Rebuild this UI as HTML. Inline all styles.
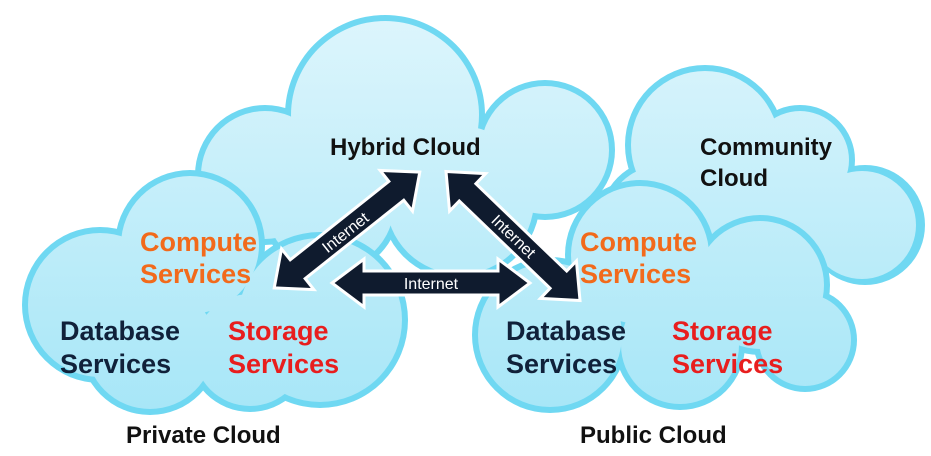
<!DOCTYPE html>
<html><head><style>
body{margin:0;background:#fff;}
svg{display:block;}
text{font-family:"Liberation Sans",sans-serif;font-weight:bold;}
</style></head><body>
<svg width="931" height="456" viewBox="0 0 931 456" xmlns="http://www.w3.org/2000/svg">
<defs>
<linearGradient id="g" gradientUnits="userSpaceOnUse" x1="0" y1="20" x2="0" y2="420">
<stop offset="0" stop-color="#dcf5fc"/><stop offset="1" stop-color="#a6e6f7"/>
</linearGradient>
</defs>
<g id="community">
<g fill="#6fd8f2">
<circle cx="705" cy="145" r="80"/><circle cx="800" cy="160" r="55"/><circle cx="865" cy="225" r="60"/><circle cx="760" cy="240" r="70"/><circle cx="660" cy="220" r="60"/>
</g>
<g fill="url(#g)">
<circle cx="705" cy="145" r="74"/><circle cx="800" cy="160" r="49"/><circle cx="862" cy="225" r="54"/><circle cx="760" cy="240" r="64"/><circle cx="660" cy="220" r="54"/>
</g>
</g>
<g id="hybrid">
<g fill="#6fd8f2">
<circle cx="385" cy="115" r="100"/><circle cx="265" cy="175" r="70"/><circle cx="545" cy="150" r="70"/><circle cx="460" cy="200" r="80"/><circle cx="330" cy="205" r="70"/>
</g>
<g fill="url(#g)">
<circle cx="385" cy="115" r="94"/><circle cx="265" cy="175" r="64"/><circle cx="545" cy="150" r="64"/><circle cx="460" cy="200" r="74"/><circle cx="330" cy="205" r="64"/>
</g>
</g>
<g id="private">
<g fill="#6fd8f2">
<circle cx="190" cy="245" r="75"/><circle cx="100" cy="305" r="78"/><circle cx="320" cy="320" r="88"/><circle cx="150" cy="345" r="70"/><circle cx="250" cy="350" r="62"/>
</g>
<g fill="url(#g)">
<circle cx="190" cy="245" r="69"/><circle cx="100" cy="305" r="72"/><circle cx="320" cy="320" r="82"/><circle cx="150" cy="345" r="64"/><circle cx="250" cy="350" r="56"/>
</g>
</g>
<g id="public">
<g fill="#6fd8f2">
<circle cx="640" cy="255" r="75"/><circle cx="760" cy="285" r="70"/><circle cx="805" cy="340" r="52"/><circle cx="550" cy="335" r="78"/><circle cx="680" cy="345" r="65"/>
</g>
<g fill="url(#g)">
<circle cx="640" cy="255" r="69"/><circle cx="760" cy="285" r="64"/><circle cx="805" cy="340" r="46"/><circle cx="550" cy="335" r="72"/><circle cx="680" cy="345" r="59"/>
</g>
</g>
<g fill="#0f1b2e" stroke="#fff" stroke-width="3" stroke-linejoin="miter">
<g transform="translate(347,230) rotate(-38.5)">
<polygon points="-93,0 -63,-26 -63,-12 63,-12 63,-26 93,0 63,26 63,12 -63,12 -63,26"/>
</g>
<g transform="translate(513,236) rotate(43.9)">
<polygon points="-93,0 -63,-26 -63,-12 63,-12 63,-26 93,0 63,26 63,12 -63,12 -63,26"/>
</g>
<polygon points="332,283 364,259 364,271 498,271 498,259 530,283 498,307 498,295 364,295 364,307"/>
</g>
<g fill="#fff" font-size="16">
<text x="431" y="289" text-anchor="middle" style="font-weight:normal">Internet</text>
<text transform="translate(345,232) rotate(-38.5)" text-anchor="middle" y="6" style="font-weight:normal">Internet</text>
<text transform="translate(514,236) rotate(43.9)" text-anchor="middle" y="6" style="font-weight:normal">Internet</text>
</g>
<g font-size="24">
<text x="330" y="155" fill="#111">Hybrid Cloud</text>
<text x="700" y="155" fill="#111">Community</text>
<text x="700" y="186" fill="#111">Cloud</text>
<text x="140" y="251" fill="#f26a1b" font-size="27">Compute</text>
<text x="140" y="283" fill="#f26a1b" font-size="27">Services</text>
<text x="60" y="340" fill="#10213a" font-size="27">Database</text>
<text x="60" y="373" fill="#10213a" font-size="27">Services</text>
<text x="228" y="340" fill="#e81e1e" font-size="27">Storage</text>
<text x="228" y="373" fill="#e81e1e" font-size="27">Services</text>
<text x="580" y="251" fill="#f26a1b" font-size="27">Compute</text>
<text x="580" y="283" fill="#f26a1b" font-size="27">Services</text>
<text x="506" y="340" fill="#10213a" font-size="27">Database</text>
<text x="506" y="373" fill="#10213a" font-size="27">Services</text>
<text x="672" y="340" fill="#e81e1e" font-size="27">Storage</text>
<text x="672" y="373" fill="#e81e1e" font-size="27">Services</text>
<text x="126" y="443" fill="#111">Private Cloud</text>
<text x="580" y="443" fill="#111">Public Cloud</text>
</g>
</svg>
</body></html>
